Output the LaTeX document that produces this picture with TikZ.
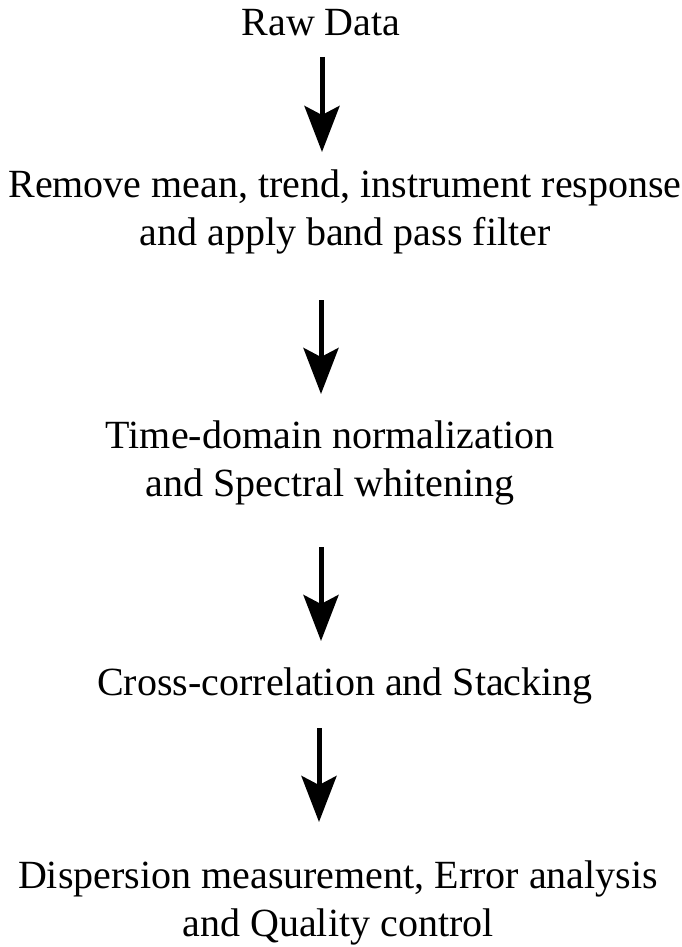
\documentclass[tikz,border=0pt]{standalone}
\usepackage{fontspec}
\setmainfont{Liberation Serif}
\usetikzlibrary{arrows.meta}
\begin{document}
\begin{tikzpicture}[x=1pt,y=-1pt,
  stage/.style={anchor=base, align=center, inner sep=0pt,
    font=\fontsize{40}{48}\selectfont},
  flow/.style={line width=5pt,
    -{Stealth[length=46pt,width=35pt,inset=9pt]}}]
  \useasboundingbox (0,0) rectangle (682,947);

  % processing stages, top to bottom (base = last line's baseline)
  \node[stage] (raw)  at (321,36)  {Raw Data};
  \node[stage] (prep) at (345,245) {Remove mean, trend, instrument response\\and apply band pass filter};
  \node[stage] (norm) at (330,496) {Time-domain normalization\\and Spectral whitening};
  \node[stage] (xcor) at (345,695) {Cross-correlation and Stacking};
  \node[stage] (disp) at (338,936) {Dispersion measurement, Error analysis\\and Quality control};

  % arrow end points between the stages
  \coordinate (a1s) at (322,57);  \coordinate (a1e) at (322,152);
  \coordinate (a2s) at (321,300); \coordinate (a2e) at (321,394);
  \coordinate (a3s) at (321,547); \coordinate (a3e) at (321,641);
  \coordinate (a4s) at (319,728); \coordinate (a4e) at (319,822);

  \draw[flow] (a1s) -- (a1e);
  \draw[flow] (a2s) -- (a2e);
  \draw[flow] (a3s) -- (a3e);
  \draw[flow] (a4s) -- (a4e);
\end{tikzpicture}
\end{document}
